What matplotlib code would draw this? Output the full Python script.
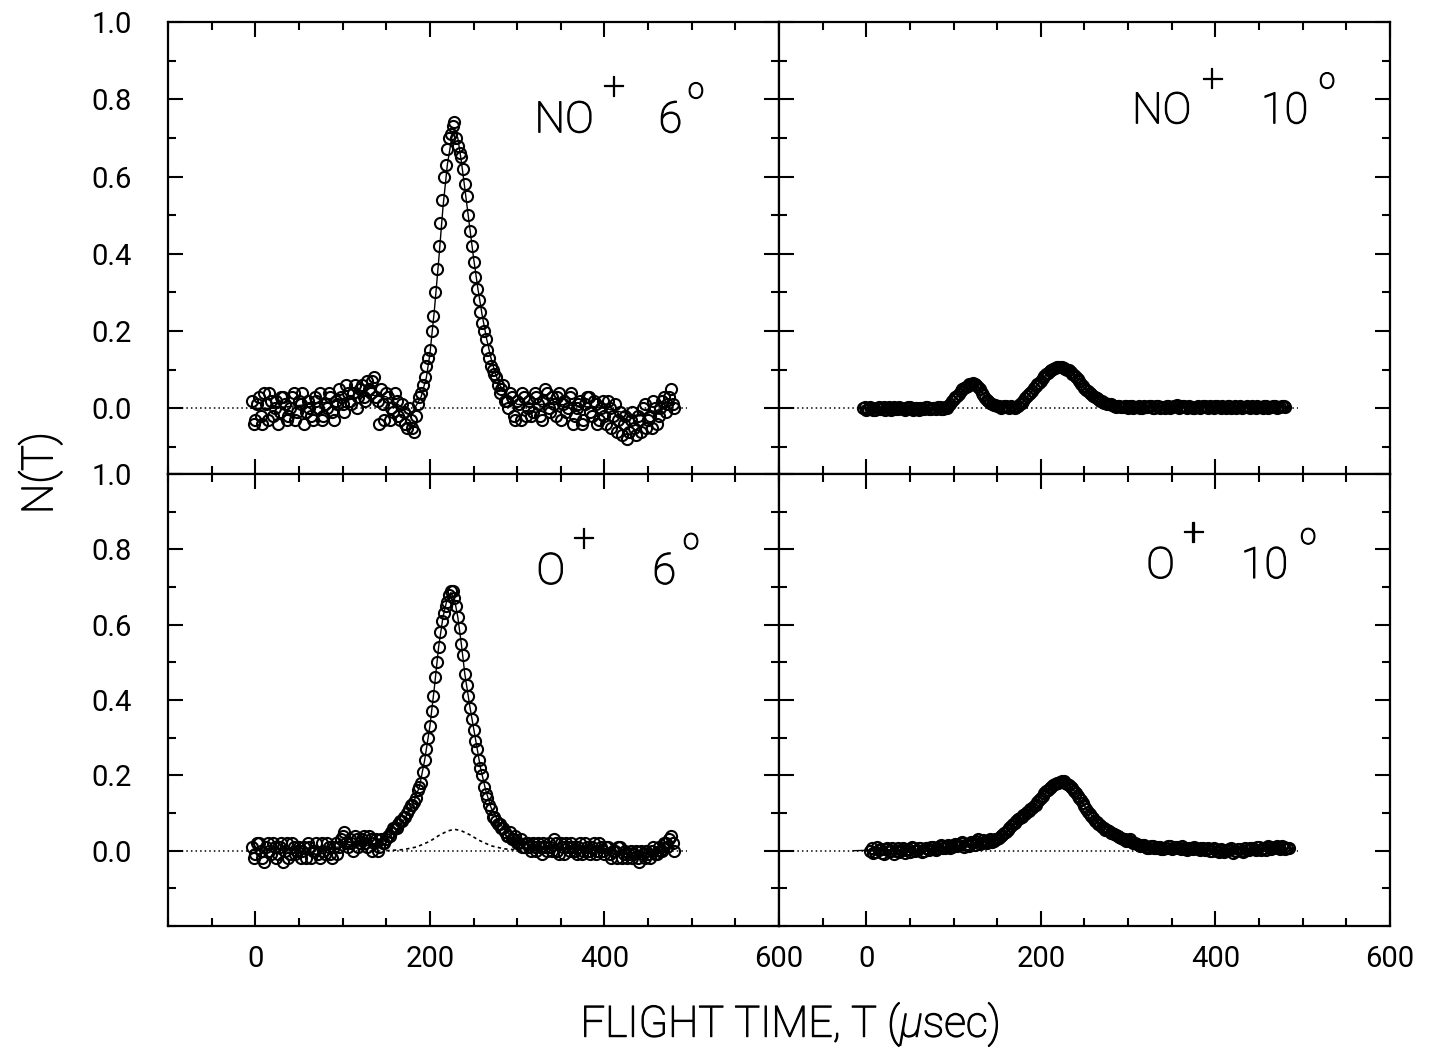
#!/usr/bin/env python3
"""
Espectros de tempo de voo N(T) para NO+ e O+ a 6 e 10 graus (painel 2x2).
"""
import numpy as np
import matplotlib

matplotlib.use("Agg")
import matplotlib.pyplot as plt
import matplotlib.patheffects as pe
from matplotlib.ticker import MultipleLocator, FixedLocator, FormatStrFormatter

# ---------------------------------------------------------------- dados
# tempos de voo (usec) dos pontos medidos: duas varreduras intercaladas
t_a = np.arange(-4, 484, 4)        # -4 .. 480
t_b = np.arange(-2, 482, 4)        # -2 .. 478
t_o10_a = np.arange(4, 488, 4)     # 4 .. 484
t_o10_b = np.arange(6, 486, 4)     # 6 .. 482

# NO+ 6 graus
no6_a = [
    0.02, -0.03, 0.03, -0.04, 0.01, 0.04, -0.02, 0.02, -0.01, 0.03,
    -0.03, 0.00, 0.04, -0.01, 0.01, -0.04, 0.02, -0.02, 0.03, 0.00,
    -0.03, 0.01, 0.04, -0.01, 0.02, 0.05, 0.01, 0.06, 0.02, 0.04,
    0.00, 0.05, 0.03, 0.07, 0.04, 0.08, 0.02, 0.05, -0.03, 0.03,
    0.00, 0.04, -0.02, 0.01, -0.04, 0.00, -0.05, -0.02, 0.03, 0.06,
    0.11, 0.15, 0.24, 0.36, 0.48, 0.60, 0.67, 0.71, 0.74, 0.68,
    0.65, 0.58, 0.50, 0.42, 0.34, 0.28, 0.22, 0.18, 0.13, 0.10,
    0.08, 0.04, 0.06, 0.02, 0.04, -0.02, 0.02, -0.03, 0.03, 0.00,
    -0.02, 0.04, 0.01, -0.03, 0.05, 0.00, 0.03, -0.02, 0.04, 0.01,
    -0.01, 0.03, -0.04, 0.00, 0.02, -0.03, 0.03, -0.01, 0.02, -0.04,
    0.00, -0.02, 0.02, -0.05, 0.01, -0.03, -0.07, -0.02, -0.06, -0.01,
    -0.07, -0.03, 0.00, -0.05, -0.02, 0.02, -0.04, 0.00, 0.03, 0.01,
    0.05, 0.00,
]
no6_b = [
    -0.04, 0.01, -0.02, 0.04, -0.03, 0.02, 0.00, -0.04, 0.03, 0.01,
    -0.02, 0.03, -0.03, 0.02, 0.04, -0.01, 0.00, -0.03, 0.02, 0.04,
    -0.02, 0.00, 0.03, -0.03, 0.01, 0.03, -0.01, 0.04, 0.01, 0.06,
    0.03, 0.06, 0.02, 0.05, 0.07, 0.03, -0.04, 0.01, 0.04, -0.03,
    -0.01, 0.02, -0.03, -0.01, -0.05, -0.03, -0.06, 0.01, 0.04, 0.08,
    0.13, 0.20, 0.30, 0.42, 0.54, 0.63, 0.70, 0.73, 0.70, 0.66,
    0.62, 0.55, 0.46, 0.38, 0.31, 0.25, 0.20, 0.15, 0.11, 0.09,
    0.06, 0.05, 0.02, 0.00, 0.03, -0.03, 0.01, 0.04, -0.02, 0.02,
    -0.01, 0.03, -0.02, 0.02, 0.04, -0.01, 0.01, 0.03, -0.03, 0.02,
    0.00, 0.04, -0.02, 0.01, -0.04, 0.01, 0.03, -0.02, 0.01, -0.03,
    0.02, -0.04, 0.00, -0.02, -0.06, -0.01, -0.04, -0.08, -0.03, -0.05,
    -0.02, -0.06, 0.01, -0.03, -0.05, 0.00, -0.02, 0.02, -0.01, 0.03,
    0.01,
]
no6_fit_t = [-5, 20, 60, 100, 130, 150, 170, 180, 190, 196, 200, 205, 210, 215,
             220, 225, 228, 232, 236, 240, 245, 250, 255, 260, 265, 270, 275, 280,
             290, 300, 350, 400, 440, 480]
no6_fit = [0.00, 0.00, 0.01, 0.02, 0.035, 0.03, 0.00, -0.01, 0.03, 0.08, 0.14, 0.25,
           0.38, 0.52, 0.63, 0.70, 0.72, 0.70, 0.64, 0.57, 0.48, 0.39, 0.31, 0.24,
           0.18, 0.13, 0.09, 0.06, 0.03, 0.01, 0.01, 0.00, -0.02, 0.01]

# NO+ 10 graus
no10_a = [
    0.000, -0.005, 0.003, -0.004, 0.002, -0.003, 0.004, 0.000, -0.005, 0.003,
    -0.002, 0.001, -0.004, 0.003, -0.001, 0.002, -0.004, 0.001, 0.003, -0.003,
    0.002, -0.002, 0.004, -0.001, 0.002, 0.012, 0.025, 0.032, 0.045, 0.052,
    0.058, 0.064, 0.062, 0.055, 0.040, 0.028, 0.018, 0.012, 0.008, 0.005,
    0.003, 0.006, 0.002, 0.004, 0.003, 0.010, 0.018, 0.032, 0.040, 0.052,
    0.062, 0.072, 0.083, 0.092, 0.100, 0.104, 0.108, 0.106, 0.103, 0.098,
    0.090, 0.080, 0.070, 0.058, 0.048, 0.040, 0.032, 0.026, 0.020, 0.015,
    0.012, 0.010, 0.007, 0.006, 0.004, 0.006, 0.002, 0.005, 0.003, 0.006,
    0.001, 0.004, 0.006, 0.002, 0.005, 0.000, 0.004, 0.006, 0.002, 0.005,
    0.008, 0.003, 0.006, 0.001, 0.004, 0.002, 0.006, 0.003, 0.005, 0.001,
    0.004, 0.007, 0.003, 0.005, 0.002, 0.006, 0.004, 0.001, 0.005, 0.003,
    0.006, 0.002, 0.004, 0.007, 0.003, 0.005, 0.002, 0.004, 0.006, 0.003,
    0.005, 0.004,
]
no10_b = [
    0.004, -0.003, 0.001, -0.005, 0.003, 0.000, -0.004, 0.003, 0.001, -0.003,
    0.004, -0.002, 0.000, 0.003, -0.004, 0.002, 0.000, -0.003, 0.004, -0.001,
    0.000, 0.003, -0.002, 0.003, 0.006, 0.018, 0.030, 0.038, 0.050, 0.055,
    0.063, 0.066, 0.060, 0.050, 0.034, 0.022, 0.015, 0.009, 0.006, 0.002,
    0.005, 0.003, 0.006, 0.002, 0.006, 0.014, 0.026, 0.036, 0.046, 0.058,
    0.066, 0.078, 0.088, 0.097, 0.102, 0.106, 0.108, 0.105, 0.100, 0.094,
    0.086, 0.075, 0.063, 0.053, 0.044, 0.036, 0.029, 0.023, 0.018, 0.013,
    0.011, 0.008, 0.004, 0.007, 0.003, 0.005, 0.006, 0.002, 0.004, 0.001,
    0.006, 0.003, 0.005, 0.001, 0.006, 0.003, 0.002, 0.005, 0.003, 0.007,
    0.002, 0.005, 0.003, 0.006, 0.001, 0.004, 0.002, 0.006, 0.003, 0.005,
    0.002, 0.005, 0.001, 0.004, 0.006, 0.002, 0.005, 0.003, 0.001, 0.004,
    0.003, 0.006, 0.002, 0.004, 0.001, 0.006, 0.003, 0.005, 0.002, 0.004,
    0.006,
]
no10_fit_t = [-5, 95, 100, 110, 120, 125, 130, 140, 150, 170, 178, 190, 200, 210,
              220, 225, 230, 240, 250, 260, 270, 280, 300, 480]
no10_fit = [0.0, 0.0, 0.02, 0.045, 0.062, 0.062, 0.05, 0.02, 0.006, 0.004, 0.012,
            0.045, 0.072, 0.096, 0.106, 0.106, 0.103, 0.082, 0.052, 0.033, 0.018,
            0.010, 0.004, 0.004]

# O+ 6 graus
o6_a = [
    0.01, -0.01, 0.02, -0.02, 0.01, 0.00, 0.02, -0.02, 0.01, -0.03,
    0.02, -0.01, 0.01, 0.00, -0.02, 0.01, 0.02, -0.02, 0.00, -0.01,
    0.02, -0.01, 0.01, -0.02, 0.02, 0.01, 0.04, 0.02, 0.03, 0.00,
    0.03, 0.02, 0.04, 0.01, 0.03, 0.02, 0.00, 0.03, 0.02, 0.04,
    0.05, 0.06, 0.07, 0.08, 0.09, 0.11, 0.12, 0.14, 0.17, 0.21,
    0.27, 0.33, 0.41, 0.50, 0.58, 0.63, 0.66, 0.69, 0.67, 0.62,
    0.55, 0.47, 0.41, 0.35, 0.29, 0.24, 0.20, 0.15, 0.12, 0.09,
    0.08, 0.07, 0.06, 0.04, 0.05, 0.03, 0.02, 0.03, 0.01, 0.02,
    0.00, 0.01, 0.02, -0.01, 0.01, 0.02, 0.00, 0.02, -0.01, 0.01,
    0.02, 0.00, 0.01, -0.01, 0.02, 0.00, 0.01, -0.01, 0.02, 0.00,
    0.01, -0.01, 0.01, -0.02, 0.00, 0.01, -0.02, 0.00, -0.01, -0.02,
    0.00, -0.03, -0.01, 0.00, -0.02, 0.01, -0.01, 0.00, 0.02, 0.01,
    0.04, 0.00,
]
o6_b = [
    -0.02, 0.02, 0.00, -0.03, 0.02, -0.01, 0.01, -0.01, 0.02, 0.00,
    -0.02, 0.02, -0.01, 0.01, 0.00, -0.02, 0.01, 0.00, 0.02, -0.02,
    0.00, 0.02, -0.01, 0.01, -0.01, 0.03, 0.05, 0.01, 0.02, 0.04,
    0.01, 0.03, 0.02, 0.04, 0.00, 0.03, 0.01, 0.02, 0.03, 0.04,
    0.06, 0.06, 0.08, 0.09, 0.10, 0.12, 0.13, 0.16, 0.18, 0.24,
    0.30, 0.37, 0.46, 0.54, 0.61, 0.65, 0.68, 0.69, 0.65, 0.59,
    0.52, 0.44, 0.38, 0.32, 0.27, 0.22, 0.17, 0.14, 0.11, 0.09,
    0.07, 0.06, 0.05, 0.04, 0.03, 0.04, 0.02, 0.01, 0.02, 0.01,
    0.02, 0.00, 0.01, 0.02, 0.00, 0.01, 0.03, 0.00, 0.02, -0.01,
    0.01, 0.02, 0.00, 0.01, -0.01, 0.02, 0.00, 0.01, -0.01, 0.02,
    0.00, 0.01, -0.01, 0.00, -0.02, 0.01, -0.01, -0.02, 0.00, -0.01,
    -0.02, 0.00, -0.02, -0.01, 0.00, -0.01, 0.01, 0.00, 0.02, 0.03,
    0.02,
]
o6_fit_t = [-5, 100, 140, 150, 160, 170, 180, 188, 194, 200, 205, 210, 215, 220,
            224, 228, 232, 236, 240, 246, 252, 258, 264, 270, 278, 286, 296, 310,
            330, 400, 450, 480]
o6_fit = [0.0, 0.01, 0.015, 0.03, 0.05, 0.08, 0.12, 0.17, 0.24, 0.33, 0.43, 0.54,
          0.62, 0.67, 0.685, 0.67, 0.62, 0.55, 0.47, 0.38, 0.30, 0.22, 0.16, 0.115,
          0.08, 0.055, 0.035, 0.018, 0.008, 0.0, -0.01, 0.01]
# componente lenta (curva tracejada)
o6_slow_t = [150, 170, 185, 200, 210, 220, 228, 236, 246, 256, 270, 285, 300, 320]
o6_slow = [0.0, 0.003, 0.01, 0.025, 0.04, 0.052, 0.057, 0.053, 0.042, 0.028,
           0.013, 0.005, 0.002, 0.0]

# O+ 10 graus
o10_a = [
    0.000, -0.005, 0.010, 0.005, -0.008, 0.008, 0.000, -0.010, 0.006, 0.002,
    -0.006, 0.004, 0.010, 0.000, 0.006, -0.004, 0.008, 0.003, 0.010, 0.002,
    0.012, 0.006, 0.011, 0.008, 0.016, 0.012, 0.020, 0.010, 0.018, 0.024,
    0.016, 0.030, 0.020, 0.022, 0.026, 0.024, 0.030, 0.034, 0.042, 0.050,
    0.060, 0.070, 0.080, 0.088, 0.094, 0.102, 0.110, 0.118, 0.128, 0.140,
    0.152, 0.162, 0.170, 0.176, 0.180, 0.184, 0.180, 0.174, 0.166, 0.152,
    0.140, 0.126, 0.112, 0.098, 0.086, 0.076, 0.068, 0.060, 0.054, 0.048,
    0.044, 0.040, 0.034, 0.030, 0.028, 0.022, 0.020, 0.016, 0.014, 0.010,
    0.008, 0.012, 0.006, 0.010, 0.004, 0.008, 0.012, 0.006, 0.010, 0.004,
    0.008, 0.002, 0.006, 0.010, 0.004, 0.008, 0.002, 0.006, 0.000, 0.004,
    -0.004, 0.002, -0.002, 0.004, -0.006, 0.000, 0.004, -0.004, 0.002, 0.008,
    0.004, 0.010, 0.002, 0.008, 0.012, 0.004, 0.010, 0.006, 0.012, 0.004,
    0.008,
]
o10_b = [
    0.006, -0.004, 0.002, -0.006, 0.004, -0.002, 0.006, 0.000, -0.004, 0.006,
    0.002, -0.004, 0.006, 0.002, 0.008, 0.000, 0.006, 0.010, 0.004, 0.008,
    0.014, 0.006, 0.014, 0.010, 0.018, 0.014, 0.022, 0.016, 0.012, 0.022,
    0.026, 0.018, 0.028, 0.020, 0.030, 0.026, 0.032, 0.038, 0.046, 0.054,
    0.066, 0.074, 0.084, 0.090, 0.098, 0.106, 0.114, 0.122, 0.134, 0.146,
    0.158, 0.166, 0.174, 0.180, 0.182, 0.186, 0.176, 0.170, 0.158, 0.146,
    0.134, 0.118, 0.104, 0.092, 0.080, 0.072, 0.064, 0.056, 0.052, 0.046,
    0.042, 0.036, 0.032, 0.026, 0.030, 0.020, 0.018, 0.012, 0.016, 0.008,
    0.012, 0.006, 0.010, 0.004, 0.008, 0.012, 0.004, 0.010, 0.006, 0.012,
    0.004, 0.008, 0.004, 0.008, 0.002, 0.008, 0.004, 0.000, 0.006, 0.000,
    0.004, -0.004, 0.002, 0.006, -0.002, 0.004, 0.000, 0.006, 0.002, 0.008,
    0.002, 0.010, 0.006, 0.002, 0.010, 0.006, 0.012, 0.004, 0.010, 0.006,
]
o10_fit_t = [-15, 80, 120, 150, 160, 170, 180, 190, 200, 210, 218, 224, 230, 236,
             244, 252, 260, 270, 280, 295, 310, 330, 400, 490]
o10_fit = [0.0, 0.006, 0.015, 0.028, 0.045, 0.07, 0.092, 0.114, 0.140, 0.165,
           0.178, 0.182, 0.178, 0.166, 0.140, 0.112, 0.088, 0.066, 0.048, 0.032,
           0.018, 0.008, 0.004, 0.006]

# rotulos dos paineis: (ion, angulo)
panel_ions = ["NO", "NO", "O", "O"]
panel_angles = ["6", "10", "6", "10"]
x_ticks = [0, 200, 400, 600]
y_ticks = [0.0, 0.2, 0.4, 0.6, 0.8, 1.0]

# posicoes (fracao dos eixos) de: ion, "+", angulo, "o" de grau
label_pos = [
    ((0.600, 0.756), (0.730, 0.854), (0.803, 0.756), (0.864, 0.849)),
    ((0.578, 0.776), (0.709, 0.871), (0.789, 0.776), (0.897, 0.871)),
    ((0.603, 0.757), (0.680, 0.854), (0.793, 0.757), (0.856, 0.852)),
    ((0.601, 0.770), (0.678, 0.868), (0.756, 0.770), (0.866, 0.863)),
]

plt.rcParams["font.family"] = ["Roboto", "DejaVu Sans"]
plt.rcParams["mathtext.fontset"] = "custom"
plt.rcParams["mathtext.it"] = "Roboto:italic:light"
plt.rcParams["mathtext.rm"] = "Roboto:light"

# texto fino (estilo plotter) mas bem preto
thin = [pe.withStroke(linewidth=0.9, foreground="black")]


def style_axes(ax, ylow, show_x, show_y):
    ax.set_xlim(-100, 600)
    ax.set_ylim(ylow, 1.0)
    ax.xaxis.set_major_locator(FixedLocator(x_ticks))
    ax.xaxis.set_minor_locator(MultipleLocator(50))
    ax.yaxis.set_major_locator(FixedLocator(y_ticks))
    ax.yaxis.set_minor_locator(MultipleLocator(0.1))
    ax.yaxis.set_major_formatter(FormatStrFormatter("%.1f"))
    ax.tick_params(which="both", direction="in", top=True, right=True, width=1.5)
    ax.tick_params(which="major", length=11)
    ax.tick_params(which="minor", length=6)
    ax.tick_params(axis="x", labelsize=21, pad=14, labelbottom=show_x)
    ax.tick_params(axis="y", labelsize=21, pad=26, labelleft=show_y)
    for sp in ax.spines.values():
        sp.set_linewidth(1.6)


def draw_label(ax, ion, angle, pos):
    p_ion, p_plus, p_ang, p_deg = pos
    kw = dict(transform=ax.transAxes, color="black", fontweight="light",
              path_effects=thin)
    ax.text(*p_ion, ion, fontsize=31, ha="left", va="baseline", **kw)
    ax.text(*p_plus, "+", fontsize=28, ha="center", va="center", **kw)
    ax.text(*p_ang, angle, fontsize=31, ha="left", va="baseline", **kw)
    ax.text(*p_deg, "o", fontsize=21, ha="center", va="center", **kw)


def draw_panel(ax, scans, fit_t, fit):
    ax.hlines(0, -100, 495, colors="black", linestyles=(0, (1, 2)), linewidth=1.1)
    ax.plot(fit_t, fit, color="black", linewidth=1.0)
    for t, counts in scans:
        ax.plot(t, counts, "o", mfc="none", mec="black", ms=8.0, mew=1.5)


fig = plt.figure(figsize=(14.41, 10.61), dpi=100)
gs = fig.add_gridspec(2, 2, left=0.1166, right=0.9646, top=0.9793, bottom=0.1272,
                      hspace=0, wspace=0)
ax_no6 = fig.add_subplot(gs[0, 0])
ax_no10 = fig.add_subplot(gs[0, 1])
ax_o6 = fig.add_subplot(gs[1, 0])
ax_o10 = fig.add_subplot(gs[1, 1])
axes = [ax_no6, ax_no10, ax_o6, ax_o10]

draw_panel(ax_no6, [(t_a, no6_a), (t_b, no6_b)], no6_fit_t, no6_fit)
draw_panel(ax_no10, [(t_a, no10_a), (t_b, no10_b)], no10_fit_t, no10_fit)
draw_panel(ax_o6, [(t_a, o6_a), (t_b, o6_b)], o6_fit_t, o6_fit)
ax_o6.plot(o6_slow_t, o6_slow, color="black", linestyle=(0, (2, 2)), linewidth=1.2)
draw_panel(ax_o10, [(t_o10_a, o10_a), (t_o10_b, o10_b)], o10_fit_t, o10_fit)

for ax, ion, ang, pos in zip(axes, panel_ions, panel_angles, label_pos):
    draw_label(ax, ion, ang, pos)

style_axes(ax_no6, -0.17, False, True)
style_axes(ax_no10, -0.17, False, False)
style_axes(ax_o6, -0.2, True, True)
style_axes(ax_o10, -0.2, True, False)

fig.text(0.548, 0.034, r"FLIGHT TIME, T ($\mu$sec)", fontsize=31, ha="center",
         va="center", fontweight="light", path_effects=thin)
fig.text(0.028, 0.554, "N(T)", fontsize=31, rotation=90, ha="center", va="center",
         fontweight="light", path_effects=thin)

fig.savefig("out.png", dpi=100)
